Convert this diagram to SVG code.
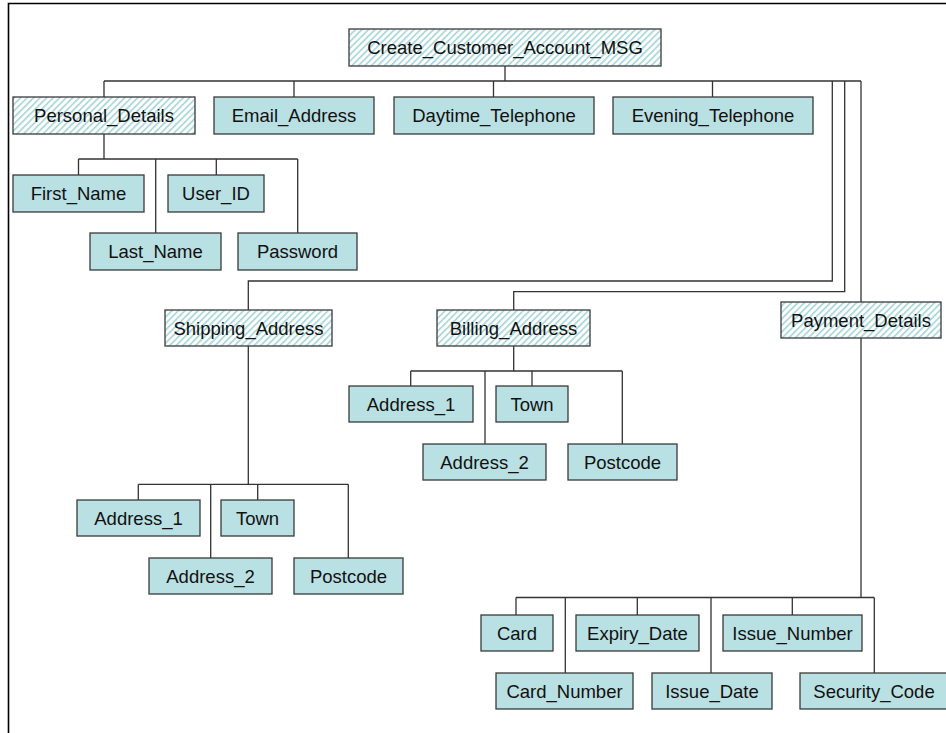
<svg xmlns="http://www.w3.org/2000/svg" width="946" height="733" viewBox="0 0 946 733">
<style>
.b{fill:#b9e0e3;stroke:#3a3a3a;stroke-width:1.3}
.h{fill:url(#hatch);stroke:#3a3a3a;stroke-width:1.3}
.t{font-family:"Liberation Sans",Arial,sans-serif;font-size:18.5px;fill:#111;text-anchor:middle}
.c{fill:none;stroke:#333;stroke-width:1.3}
</style>
<defs>
<pattern id="hatch" patternUnits="userSpaceOnUse" width="4.6" height="4.6" patternTransform="rotate(45)">
<rect width="4.6" height="4.6" fill="#ffffff"/>
<rect width="1.7" height="4.6" fill="#a9d7db"/>
</pattern>
</defs>
<rect width="946" height="733" fill="#fff"/>
<path d="M8.5,733 V3.5 H946" fill="none" stroke="#000" stroke-width="1.6"/>
<g id="connectors" class="c">
<path d="M505,66 V81 M104,81 H861 M104,81 V97 M294,81 V97 M493.5,81 V97 M712.5,81 V97"/>
<path d="M104,134 V159 M78.5,159 H297.7 M78.5,159 V175 M216.3,159 V175 M155.7,159 V233 M297.7,159 V233"/>
<path d="M832.3,81 V281 H248.3 V310"/>
<path d="M844.7,81 V291.7 H513.7 V310"/>
<path d="M861,81 V302"/>
<path d="M248.3,346 V484.3 M138.3,484.3 H348.3 M138.3,484.3 V500 M257.7,484.3 V500 M210.7,484.3 V558 M348.3,484.3 V558"/>
<path d="M513.7,346 V371 M410.7,371 H622.3 M410.7,371 V386 M532,371 V386 M485,371 V444 M622.3,371 V444"/>
<path d="M861,338 V597.5 M516,597.5 H874.3 M516,597.5 V615 M637.3,597.5 V615 M792.3,597.5 V615 M565.3,597.5 V673 M711,597.5 V673 M874.3,597.5 V673"/>
</g>
<g id="root"><rect class="h" x="349" y="29" width="312" height="37"/><text class="t" x="505" y="54">Create_Customer_Account_MSG</text></g>
<g id="personal_details"><rect class="h" x="13" y="97" width="182" height="37"/><text class="t" x="104" y="122">Personal_Details</text></g>
<g id="email_address"><rect class="b" x="214" y="97" width="160" height="37"/><text class="t" x="294" y="122">Email_Address</text></g>
<g id="daytime_telephone"><rect class="b" x="394" y="97" width="200" height="37"/><text class="t" x="494" y="122">Daytime_Telephone</text></g>
<g id="evening_telephone"><rect class="b" x="613" y="97" width="200" height="37"/><text class="t" x="713" y="122">Evening_Telephone</text></g>
<g id="first_name"><rect class="b" x="13" y="175" width="131" height="37"/><text class="t" x="78.5" y="200">First_Name</text></g>
<g id="user_id"><rect class="b" x="168" y="175" width="96" height="37"/><text class="t" x="216" y="200">User_ID</text></g>
<g id="last_name"><rect class="b" x="90" y="233" width="131" height="37"/><text class="t" x="155.5" y="258">Last_Name</text></g>
<g id="password"><rect class="b" x="238" y="233" width="119" height="37"/><text class="t" x="297.5" y="258">Password</text></g>
<g id="shipping_address"><rect class="h" x="165" y="310" width="167" height="36"/><text class="t" x="248.5" y="334.5">Shipping_Address</text></g>
<g id="ship_address_1"><rect class="b" x="77" y="500" width="123" height="36"/><text class="t" x="138.5" y="524.5">Address_1</text></g>
<g id="ship_town"><rect class="b" x="221" y="500" width="73" height="36"/><text class="t" x="257.5" y="524.5">Town</text></g>
<g id="ship_address_2"><rect class="b" x="149" y="558" width="123" height="36"/><text class="t" x="210.5" y="582.5">Address_2</text></g>
<g id="ship_postcode"><rect class="b" x="294" y="558" width="109" height="36"/><text class="t" x="348.5" y="582.5">Postcode</text></g>
<g id="billing_address"><rect class="h" x="437" y="310" width="153" height="36"/><text class="t" x="513.5" y="334.5">Billing_Address</text></g>
<g id="bill_address_1"><rect class="b" x="349" y="386" width="124" height="36"/><text class="t" x="411" y="410.5">Address_1</text></g>
<g id="bill_town"><rect class="b" x="496" y="386" width="72" height="36"/><text class="t" x="532" y="410.5">Town</text></g>
<g id="bill_address_2"><rect class="b" x="423" y="444" width="123" height="36"/><text class="t" x="484.5" y="468.5">Address_2</text></g>
<g id="bill_postcode"><rect class="b" x="568" y="444" width="109" height="36"/><text class="t" x="622.5" y="468.5">Postcode</text></g>
<g id="payment_details"><rect class="h" x="781" y="302" width="160" height="36"/><text class="t" x="861" y="326.5">Payment_Details</text></g>
<g id="card"><rect class="b" x="481" y="615" width="72" height="36"/><text class="t" x="517" y="639.5">Card</text></g>
<g id="expiry_date"><rect class="b" x="576" y="615" width="123" height="36"/><text class="t" x="637.5" y="639.5">Expiry_Date</text></g>
<g id="issue_number"><rect class="b" x="723" y="615" width="139" height="36"/><text class="t" x="792.5" y="639.5">Issue_Number</text></g>
<g id="card_number"><rect class="b" x="496" y="673" width="137" height="36"/><text class="t" x="564.5" y="697.5">Card_Number</text></g>
<g id="issue_date"><rect class="b" x="652" y="673" width="120" height="36"/><text class="t" x="712" y="697.5">Issue_Date</text></g>
<g id="security_code"><rect class="b" x="800" y="673" width="148" height="36"/><text class="t" x="874" y="697.5">Security_Code</text></g>
</svg>
